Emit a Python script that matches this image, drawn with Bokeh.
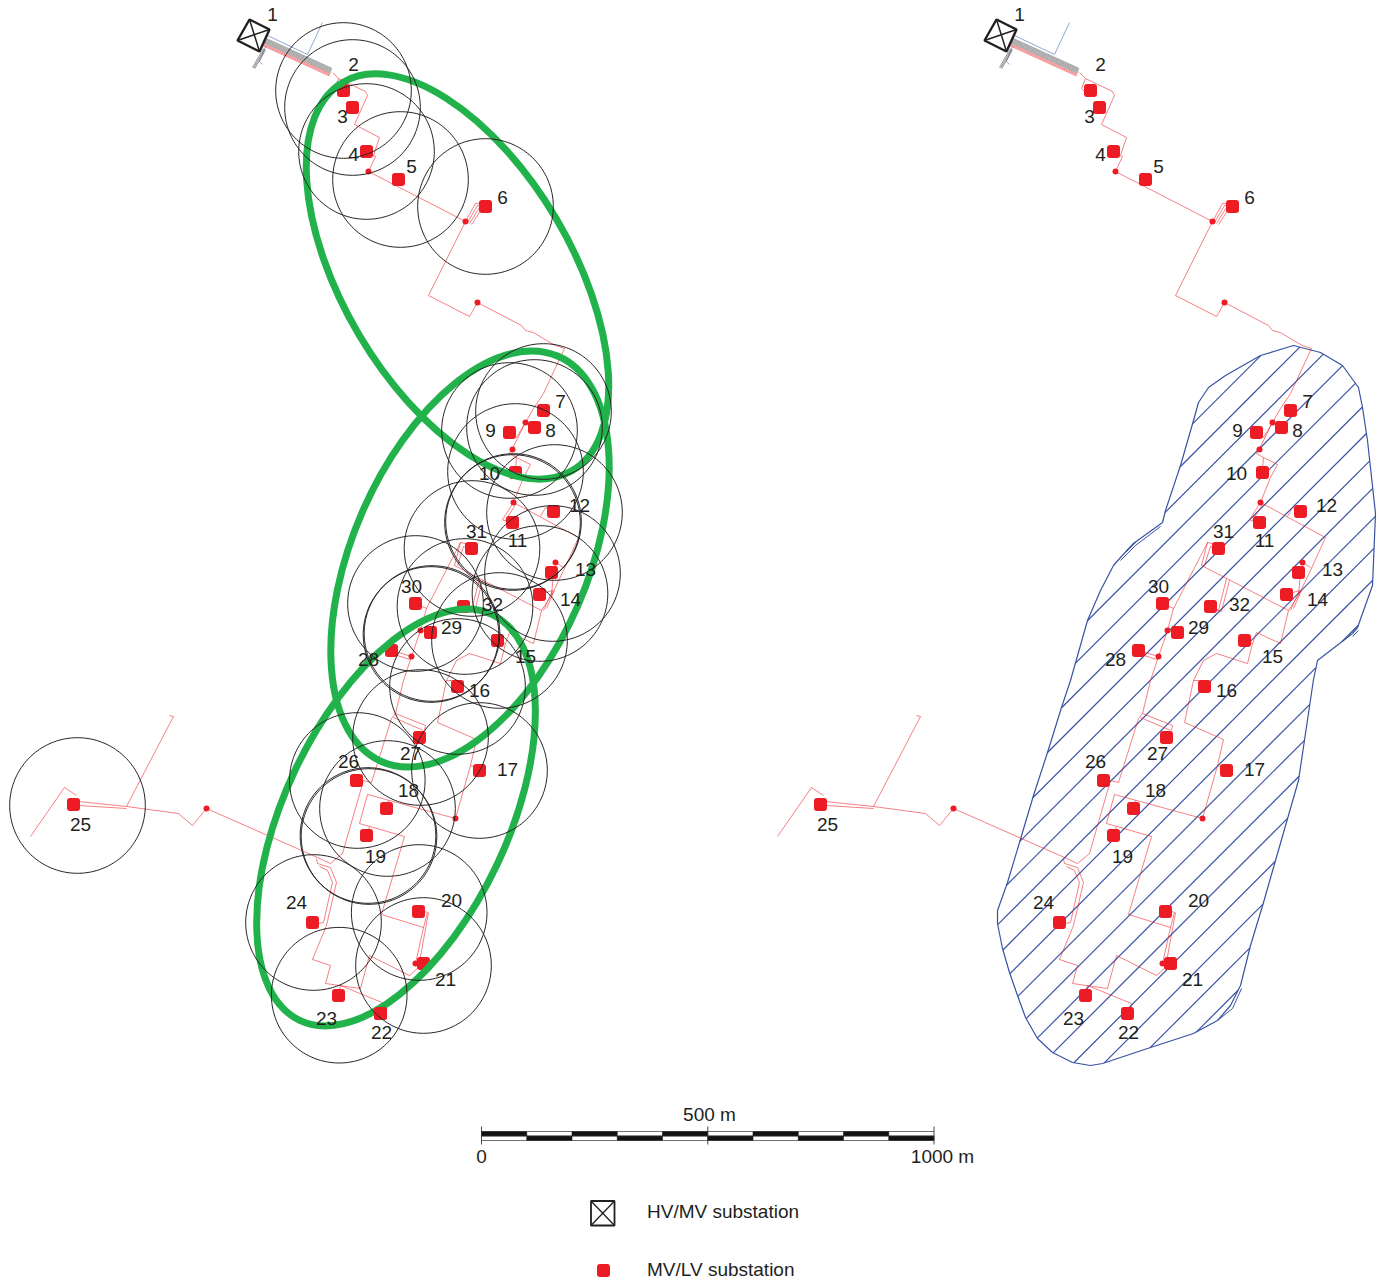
import numpy as np
from bokeh.plotting import figure
from bokeh.models import Range1d
from bokeh.core.properties import value
from bokeh.embed import file_html
from bokeh.resources import INLINE

# ---- data: map coordinates ----
SUB_IDS = [2,3,4,5,6,7,8,9,10,11,12,13,14,15,16,17,18,19,20,21,22,23,24,25,26,27,28,29,30,31,32]
SUB_X = [1090,1099,1113,1145,1232,1290,1281,1256,1262,1259,1300,1298,1286,1244,1204,1226,1133,1113,1165,1170,1127,1085,1059,820,1103,1166,1138,1177,1162,1218,1210]
SUB_Y = [90,107,151,179,206,410,427,432,472,522,511,572,594,640,686,770,808,835,911,963,1013,995,922,804,780,737,650,632,603,548,606]

LABEL_TEXT = [str(i) for i in range(1,33)]
LABEL_X = [1019,1100,1089,1100,1158,1249,1307,1297,1237,1236,1264,1326,1332,1317,1272,1226,1254,1155,1122,1198,1192,1128,1073,1043,827,1095,1157,1115,1198,1158,1223,1239]
LABEL_Y = [14,64,116,154,166,197,401,430,430,473,540,505,569,599,656,690,769,790,856,900,979,1032,1018,902,824,761,753,659,627,586,531,604]

NODE_X = [1115,1212,1224,1272,1259,1260,1302,1167,1158,1202,1162,953]
NODE_Y = [171,221,302,422,449,502,562,630,656,818,963,808]

RED_PATHS = [
 [(1079,72),(1085,78),(1112,91),(1114,95),(1101,124),(1126,137),(1120,155),(1122,156),(1115,171),(1212,221),(1175,295),(1216,316),(1224,302),(1268,325),(1272,330),(1280,332),(1293,340),(1302,345),(1311,348),(1290,393),(1280,408),(1272,422),(1259,448),(1256,453),(1263,457),(1277,464),(1270,477),(1260,502),(1325,537),(1310,570),(1298,595),(1288,610),(1201,565),(1207,542),(1173,608),(1167,630),(1158,656),(1150,680),(1142,713),(1138,718),(1118,782),(1110,780),(1089,853),(1077,863),(1064,857),(953,808),(939,825),(925,813),(873,806),(825,801)],
 [(1085,78),(1081,88),(1086,93)],
 [(1105,110),(1099,107)],
 [(1120,155),(1113,151)],
 [(1286,405),(1290,410)],
 [(1272,422),(1263,437),(1256,432)],
 [(1263,457),(1262,468)],
 [(1260,502),(1249,519),(1259,524)],
 [(1262,504),(1252,520)],
 [(1287,516),(1292,507),(1300,511)],
 [(1207,542),(1212,543),(1218,548)],
 [(1204,565),(1210,546),(1216,548)],
 [(1173,608),(1162,603)],
 [(1167,630),(1177,632)],
 [(1158,656),(1138,650)],
 [(1156,659),(1138,653)],
 [(1226,578),(1218,610),(1210,606)],
 [(1229,580),(1221,611),(1212,608)],
 [(1290,610),(1299,590),(1286,594)],
 [(1293,608),(1301,590)],
 [(1298,595),(1300,572)],
 [(1302,562),(1310,567)],
 [(1288,610),(1280,643),(1256,632),(1252,643),(1247,663),(1216,653),(1203,660),(1193,680),(1184,722),(1223,739),(1217,765),(1202,818),(1114,794),(1106,823),(1151,836),(1128,914),(1170,927),(1174,912),(1165,909)],
 [(1252,643),(1244,640)],
 [(1193,680),(1204,680)],
 [(1217,765),(1226,768)],
 [(1135,800),(1133,808)],
 [(1116,826),(1113,835)],
 [(1170,927),(1162,963),(1170,963)],
 [(1175,912),(1165,967),(1156,975),(1116,955),(1107,988),(1072,983),(1077,965),(1059,959),(1073,925),(1083,882),(1077,867),(1064,863),(1063,858)],
 [(1059,924),(1070,922),(1079,882),(1074,870),(1066,866)],
 [(1087,985),(1131,1003),(1131,1010)],
 [(1087,985),(1085,995)],
 [(1142,713),(1172,725),(1171,730)],
 [(1140,717),(1170,730)],
 [(825,805),(873,808)],
 [(873,806),(920,716),(916,715)],
 [(823,795),(811,787),(777,836)],
 [(1212,221),(1222,203),(1232,202)],
 [(1214,222),(1224,205),(1232,204)],
 [(1216,223),(1226,207),(1232,206)],
 [(1218,224),(1228,209),(1232,208)],
]
BLUE_PATHS = [
 [(1014,35),(1054,54),(1069,22)],
 [(1012,46),(1006,61),(1009,64)],
]
BUNDLE_START = (1012,36.5)
BUNDLE_END = (1079,67)
BUNDLE_GREY = [1,2,3,4,5,6]
BUNDLE_RED = [7,8,9]
GREY_STUB_X = [1010,999]
GREY_STUB_Y = [48,67]

HV_X = [996,1016,1006,984]
HV_Y = [19,29,51,40]

AREA_X = [1260,1293,1320,1342,1358,1362,1367,1375,1372,1357,1352,1317,1313,1298,1275,1263,1250,1240,1230,1217,1193,1147,1102,1090,1072,1052,1037,1025,1017,1009,1002,997,997,1007,1019,1033,1047,1061,1070,1087,1100,1113,1120,1133,1162,1165,1180,1193,1198,1208,1225]
AREA_Y = [355,345,352,365,387,407,440,513,585,627,633,660,679,780,860,902,945,985,1005,1020,1033,1048,1063,1065,1062,1052,1038,1017,995,972,948,923,910,882,842,795,752,707,680,620,590,565,557,543,522,510,465,420,402,387,375]
AREA_EXTRA = [[(1120,560),(1135,545),(1160,526)], [(1352,636),(1358,630)], [(1217,1020),(1232,1008),(1241,988)]]
HATCH_SLOPE = 1.0
HATCH_C0 = 1768.0
HATCH_STEP = 30.6

# left panel: coverage circles
CIRCLE_X = [343,352,366,400,485,77,543,534,509,515,512,513,554,552,539.5,471.5,464.5,415,430.5,431.5,499,457,479,387,367.5,368.5,418.7,423,338.7,313,356.8,420]
CIRCLE_Y = [90,107,151,179,206,805,411,427,430,471,522,521,512,573,593,548,606,603,634,633,640,686,770,808,835,836,912,965,994.7,922,780,737]
CIRCLE_R = 67.8

# green ellipses: centre, full axes, tilt in degrees
ELL_X = [457,469.5,395.5]
ELL_Y = [276,558.5,817]
ELL_W = [451,442,449]
ELL_H = [229,235,223]
ELL_A = [-59.4,66.5,64.6]

SCALE_M = [0,100,200,300,400,500,600,700,800,900,1000]

PANEL_SHIFT = -747
RED = "#ed1c24"
INK = "#231f20"
BLUE = "#3953a4"
FONT = value("Liberation Sans")

p = figure(width=1386, height=1281, output_backend="svg", toolbar_location=None,
           x_range=Range1d(0,1386), y_range=Range1d(1281,0), min_border=0,
           x_axis_type="linear", outline_line_color=None)
p.axis.visible = False
p.grid.visible = False
p.background_fill_color = "white"

# hatching clipped to the service area
ax = np.array(AREA_X,float); ay = np.array(AREA_Y,float)
hx, hy = [], []
for k in range(-25,30):
    c = HATCH_C0 + k*HATCH_STEP + 0.37
    pts = []
    for i in range(len(ax)):
        x1,y1,x2,y2 = ax[i],ay[i],ax[(i+1)%len(ax)],ay[(i+1)%len(ay)]
        f1 = y1+HATCH_SLOPE*x1-c; f2 = y2+HATCH_SLOPE*x2-c
        if f1*f2 < 0:
            t = f1/(f1-f2)
            pts.append((x1+t*(x2-x1), y1+t*(y2-y1)))
    pts.sort()
    for a,b in zip(pts[0::2],pts[1::2]):
        hx.append([a[0],b[0]]); hy.append([a[1],b[1]])
p.multi_line(hx,hy,line_color=BLUE,line_width=1.2)
p.patch(AREA_X,AREA_Y,fill_color=None,line_color=BLUE,line_width=1.2)
p.multi_line([[q[0] for q in r] for r in AREA_EXTRA],[[q[1] for q in r] for r in AREA_EXTRA],line_color=BLUE,line_width=1.0)

def substations(xs,ys):
    p.rect(xs,ys,width=13,height=13,width_units="screen",height_units="screen",
           fill_color=RED,line_color=None,border_radius=3)

def draw_network(dx):
    p.multi_line([[q[0]+dx for q in r] for r in RED_PATHS],[[q[1] for q in r] for r in RED_PATHS],
                 line_color=RED,line_width=0.7,line_alpha=0.8)
    p.multi_line([[q[0]+dx for q in r] for r in BLUE_PATHS],[[q[1] for q in r] for r in BLUE_PATHS],
                 line_color="#7f9fd0",line_width=0.9)
    for i in BUNDLE_GREY+BUNDLE_RED:
        col = "#444444" if i in BUNDLE_GREY else RED
        off = i*0.95
        p.line([BUNDLE_START[0]+dx-off*0.35,BUNDLE_END[0]+dx-off*0.35],
               [BUNDLE_START[1]+off,BUNDLE_END[1]+off],line_color=col,line_width=0.55,line_alpha=0.9)
    for o in (0,1.2,2.4):
        p.line([x+dx+o*0.9 for x in GREY_STUB_X],[y+o*0.5 for y in GREY_STUB_Y],line_color="#444444",line_width=0.6)
    hvx=[x+dx for x in HV_X]
    p.patch(hvx,HV_Y,fill_color="white",line_color=INK,line_width=2.4)
    p.line([hvx[0],hvx[2]],[HV_Y[0],HV_Y[2]],line_color=INK,line_width=1.5)
    p.line([hvx[1],hvx[3]],[HV_Y[1],HV_Y[3]],line_color=INK,line_width=1.5)
    p.scatter([x+dx for x in NODE_X],NODE_Y,marker="circle",size=6,fill_color=RED,line_color=RED,line_width=0)
    substations([x+dx for x in SUB_X],SUB_Y)

draw_network(0)
draw_network(PANEL_SHIFT)

p.ellipse(ELL_X,ELL_Y,width=ELL_W,height=ELL_H,angle=np.radians(ELL_A),fill_color=None,line_color="#22b24c",line_width=7)
i22 = SUB_IDS.index(22)
substations([SUB_X[i22]+PANEL_SHIFT],[SUB_Y[i22]])

th = np.linspace(0,2*np.pi,181)
p.multi_line([list(cx+CIRCLE_R*np.cos(th)) for cx in CIRCLE_X],[list(cy+CIRCLE_R*np.sin(th)) for cy in CIRCLE_Y],
             line_color="#231f20",line_width=1.0)

def label(xs,ys,txt,align="center"):
    p.text(xs,ys,text=txt,text_font=FONT,text_font_size="19px",text_color=INK,text_align=align,text_baseline="middle")

label(LABEL_X,LABEL_Y,LABEL_TEXT)
label([x+PANEL_SHIFT for x in LABEL_X],LABEL_Y,LABEL_TEXT)

# scale bar
M0, PX_M = 481.0, 0.4525
sx = [M0+m*PX_M for m in SCALE_M]
BT, BM, BB = 1131,1135.5,1140
p.quad(left=sx[0:-1:2],right=sx[1::2],top=[BT]*5,bottom=[BM]*5,fill_color="#111111",line_color="#111111",line_width=0.6)
p.quad(left=sx[1::2],right=sx[2::2],top=[BM]*5,bottom=[BB]*5,fill_color="#111111",line_color="#111111",line_width=0.6)
p.multi_line([[sx[0],sx[-1]]]*3,[[BT,BT],[BM,BM],[BB,BB]],line_color="#333333",line_width=0.7)
for m in (0,5,10):
    p.line([sx[m],sx[m]],[1126,1144],line_color="#333333",line_width=0.9)
label([709,481,942],[1114,1156,1156],["500 m","0","1000 m"])
label([646.5,646.5],[1211,1269],["HV/MV substation","MV/LV substation"],align="left")

# legend symbols
p.patch([590.5,614,614,590.5],[1200.5,1200.5,1225,1225],fill_color="white",line_color=INK,line_width=1.8)
p.line([590.5,614],[1200.5,1225],line_color=INK,line_width=1.3)
p.line([590.5,614],[1225,1200.5],line_color=INK,line_width=1.3)
substations([603],[1270])

open("out.html","w").write(file_html(p,INLINE))
